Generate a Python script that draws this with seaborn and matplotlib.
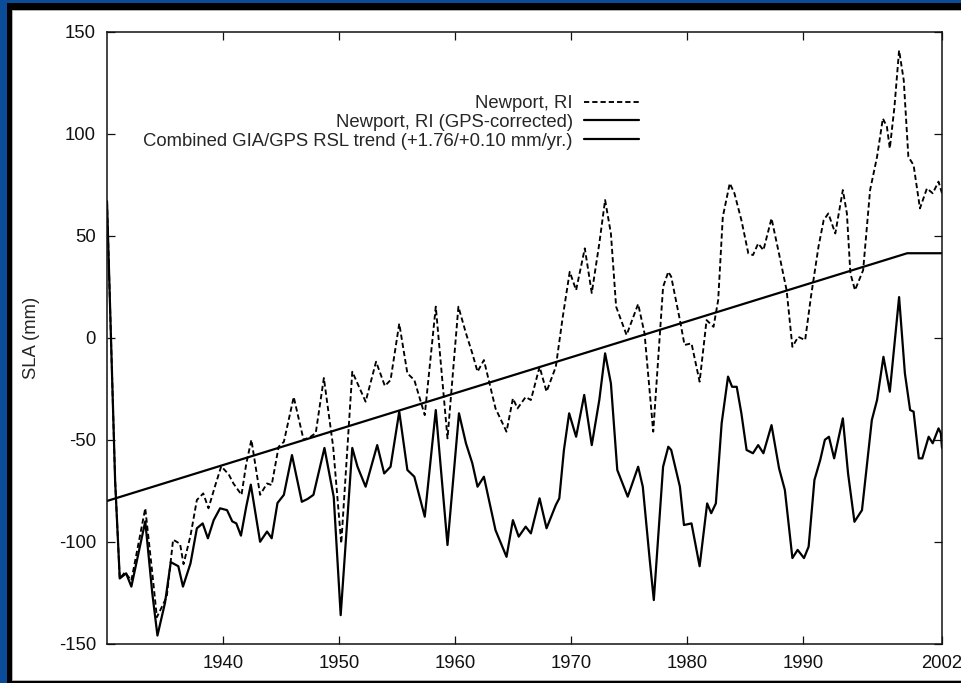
import numpy as np
import pandas as pd
import matplotlib
matplotlib.use("Agg")
import matplotlib.pyplot as plt
import seaborn as sns
from matplotlib.patches import Rectangle

# Newport, RI monthly-smoothed sea level anomaly (mm)
raw_years = [1930.0, 1930.7, 1931.1, 1931.55, 1932.1, 1933.3, 1933.9, 1934.3, 1935.15, 1935.7,
             1936.3, 1936.6, 1937.2, 1937.75, 1938.3, 1938.75, 1939.3, 1939.85, 1940.5, 1940.9,
             1941.6, 1942.0, 1942.45, 1943.2, 1943.8, 1944.2, 1944.8, 1945.25, 1946.1, 1946.95,
             1947.55, 1948.0, 1948.7, 1949.5, 1950.2, 1951.15, 1952.3, 1953.2, 1953.96, 1954.45,
             1955.2, 1955.9, 1956.5, 1957.4, 1958.35, 1959.36, 1960.3, 1960.95, 1961.5, 1961.95,
             1962.5, 1963.5, 1964.45, 1965.0, 1965.4, 1966.1, 1966.55, 1967.3, 1967.9, 1968.7,
             1969.3, 1969.9, 1970.45, 1971.2, 1971.8, 1972.45, 1972.95, 1973.45, 1973.9, 1974.8,
             1975.8, 1976.35, 1977.1, 1977.95, 1978.4, 1978.65, 1979.4, 1979.8, 1980.4, 1981.1,
             1981.7, 1982.3, 1982.7, 1983.1, 1983.7, 1984.1, 1984.7, 1985.3, 1985.7, 1986.15,
             1986.6, 1987.3, 1988.0, 1988.6, 1989.1, 1989.6, 1990.2, 1990.7, 1991.35, 1991.8,
             1992.2, 1992.8, 1993.45, 1993.8, 1994.1, 1994.5, 1995.2, 1995.8, 1996.4, 1996.9,
             1997.25, 1997.5, 1997.9, 1998.3, 1998.7, 1999.1, 1999.55, 2000.1, 2000.7, 2001.2,
             2001.7, 2002.0]
raw_sla = [67, -70, -118, -115, -119, -83.6, -115, -137, -127, -99,
           -101, -111, -97, -79.5, -76.3, -83.6, -73, -63, -67, -71.4,
           -77, -62, -50, -77, -71.4, -72.2, -53.4, -51, -29, -50,
           -48.5, -46.7, -19.7, -53.4, -100.8, -16.6, -31.3, -11.7, -23.6, -20.7,
           7, -17.4, -20.7, -37.9, 15.3, -49.3, 15.3, 2.3, -7.6, -16.6,
           -10.9, -34.6, -46, -29.7, -34.6, -29, -30.5, -14.2, -26.4, -14.2,
           10.3, 32.4, 23.4, 43.9, 22, 46.3, 67.6, 51.2, 15.3, 1.4,
           16.6, 2.2, -46, 25, 32.4, 30, 8.7, -3.5, -2.7, -21.5,
           8.7, 5.4, 18.5, 59.4, 75.8, 70.9, 57.8, 41.4, 40.6, 46.3,
           43, 58.6, 39.8, 23.4, -4.4, 0.5, -1.1, 20.2, 44.7, 57.8,
           61, 51.2, 72.5, 61, 31.6, 23.4, 33.2, 72.5, 88.8, 107.6,
           103.5, 92.9, 113.3, 141, 126.4, 88.8, 84.7, 63.5, 73.3, 70.9,
           76.6, 70.9]

# GPS-corrected series
gps_years = [1930.0, 1930.7, 1931.1, 1931.65, 1932.1, 1933.3, 1933.9, 1934.35, 1935.0, 1935.5,
             1936.15, 1936.55, 1937.2, 1937.75, 1938.25, 1938.7, 1939.2, 1939.75, 1940.35, 1940.8,
             1941.15, 1941.55, 1942.0, 1942.4, 1942.8, 1943.2, 1943.8, 1944.2, 1944.7, 1945.25,
             1945.95, 1946.8, 1947.3, 1947.8, 1948.75, 1949.55, 1950.15, 1951.15, 1951.6, 1952.3,
             1953.3, 1953.9, 1954.45, 1955.2, 1955.9, 1956.5, 1957.4, 1958.35, 1959.36, 1960.35,
             1960.95, 1961.5, 1961.95, 1962.5, 1963.5, 1964.45, 1965.0, 1965.5, 1966.1, 1966.55,
             1967.3, 1967.9, 1968.7, 1969.0, 1969.4, 1969.85, 1970.45, 1971.15, 1971.8, 1972.45,
             1972.95, 1973.45, 1974.0, 1974.9, 1975.8, 1976.2, 1976.8, 1977.15, 1977.95, 1978.4,
             1978.65, 1979.4, 1979.75, 1980.4, 1981.1, 1981.75, 1982.1, 1982.5, 1983.0, 1983.55,
             1983.9, 1984.3, 1984.7, 1985.15, 1985.7, 1986.15, 1986.6, 1987.3, 1987.95, 1988.45,
             1989.1, 1989.55, 1990.1, 1990.5, 1991.0, 1991.5, 1991.9, 1992.25, 1992.7, 1993.45,
             1993.9, 1994.45, 1995.1, 1995.95, 1996.4, 1996.95, 1997.5, 1998.3, 1998.8, 1999.25,
             1999.55, 2000.0, 2000.3, 2000.85, 2001.2, 2001.7, 2001.9, 2002.0]
gps_sla = [67, -70, -118, -115.5, -122, -90, -125, -146, -130, -110,
           -112, -122, -110.6, -93.4, -91, -98.3, -89.4, -83.6, -84.5, -90,
           -91, -97, -83, -72, -86, -100, -95, -98.3, -81, -77,
           -57.5, -80.4, -79, -77, -54, -78, -136, -54, -63.2, -73,
           -52.6, -66.5, -63.2, -36.2, -64.8, -68.1, -87.7, -35.4, -101.6, -37,
           -51.7, -61.5, -73, -68.1, -94.3, -107.4, -89.4, -97.5, -92.6, -95.9,
           -78.7, -93.4, -82, -78.7, -55, -37, -48.5, -28, -52.6, -30.5,
           -7.6, -22.3, -64.8, -77.9, -63.2, -73, -109, -128.6, -63.2, -53.4,
           -55, -73, -91.8, -91, -112, -81.2, -86, -81.2, -41.9, -19,
           -24, -24, -37, -55, -56.6, -52.6, -56.6, -42.8, -64, -74.6,
           -108, -104, -108, -102.4, -69.7, -59.9, -50, -48.5, -59.1, -39.5,
           -66.5, -90.2, -84.5, -40.3, -30.5, -9.3, -26.4, 20, -17.4, -35.4,
           -36.2, -59.1, -59.1, -48.5, -51.7, -44.4, -46.8, -54]

# combined GIA/GPS trend line
trend_years = [1930.0, 1999.0, 2002.0]
trend_sla = [-80, 41.5, 41.5]

x_ticks = [1940, 1950, 1960, 1970, 1980, 1990, 2002]
y_ticks = [-150, -100, -50, 0, 50, 100, 150]

raw_df = pd.DataFrame({"year": raw_years, "sla": raw_sla})
gps_df = pd.DataFrame({"year": gps_years, "sla": gps_sla})
trend_df = pd.DataFrame({"year": trend_years, "sla": trend_sla})

sns.set_theme(style="ticks")
plt.rcParams["font.family"] = ["Liberation Sans", "DejaVu Sans"]
plt.rcParams["axes.unicode_minus"] = False

FS = 13.3

fig = plt.figure(figsize=(9.62, 6.83), dpi=100)
W, H = 962, 683
fig.patch.set_facecolor("#0a4c97")
# black frame + white card like the original slide
fig.patches.append(Rectangle((7 / W, 0), 1, (H - 3) / H, transform=fig.transFigure,
                             facecolor="black", edgecolor="none", zorder=-20))
fig.patches.append(Rectangle((12 / W, 3 / H), 1, 670.5 / H, transform=fig.transFigure,
                             facecolor="white", edgecolor="#bbbbbb", linewidth=0.6, zorder=-10))

ax = fig.add_axes([107 / W, (H - 643.7) / H, 835 / W, 611.7 / H])
ax.set_zorder(5)
ax.set_facecolor("white")

sns.lineplot(data=raw_df, x="year", y="sla", ax=ax, color="black", linewidth=1.35,
             label="Newport, RI", sort=False)
sns.lineplot(data=gps_df, x="year", y="sla", ax=ax, color="black", linewidth=1.6,
             label="Newport, RI (GPS-corrected)", sort=False)
sns.lineplot(data=trend_df, x="year", y="sla", ax=ax, color="black", linewidth=1.6,
             label="Combined GIA/GPS RSL trend (+1.76/+0.10 mm/yr.)", sort=False)
ax.lines[0].set_dashes((2.8, 1.6))

ax.set_xlim(1930, 2002)
ax.set_ylim(-150, 150)
ax.set_xticks(x_ticks)
ax.set_yticks(y_ticks)
ax.set_xlabel("")
ax.set_ylabel("SLA (mm)", fontsize=FS)
ax.yaxis.set_label_coords(-0.080, 0.5)
ax.tick_params(direction="in", length=5.8, width=0.9, labelsize=FS, pad=8,
               top=True, right=True, colors="#111111")
for sp in ax.spines.values():
    sp.set_visible(True)
    sp.set_linewidth(1.1)
    sp.set_color("#111111")

leg = ax.legend(loc="upper right", bbox_to_anchor=(0.637, 0.897), frameon=False,
                markerfirst=False, fontsize=FS, handlelength=2.97, handletextpad=0.6,
                labelspacing=0.1, borderpad=0, borderaxespad=0)
leg.get_lines()[0].set_dashes((2.8, 1.6))

fig.savefig("out.png", dpi=100, facecolor=fig.get_facecolor())
